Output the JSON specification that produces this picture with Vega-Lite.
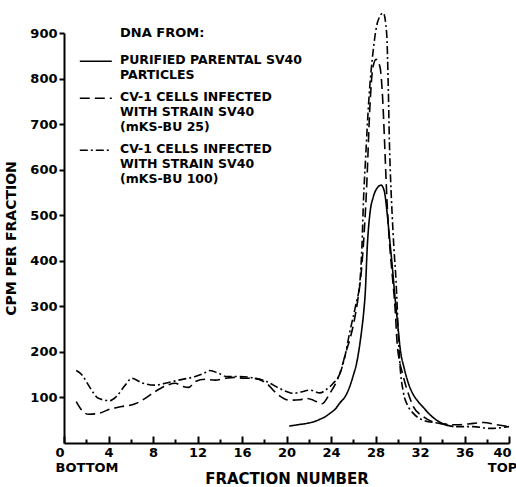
{
  "$schema": "https://vega.github.io/schema/vega-lite/v6.json",
  "width": 445,
  "height": 410,
  "autosize": {"type": "none"},
  "padding": {"left": 64, "top": 33, "right": 7, "bottom": 44},
  "background": "white",
  "title": {"text": "DNA FROM:", "anchor": "start", "frame": "group", "dx": 56, "offset": -40, "fontSize": 13, "font": "DejaVu Sans", "fontWeight": "bold", "color": "black", "baseline": "alphabetic"},
  "data": {"values": [
    {"dna": "parental", "fraction": 20.25, "cpm": 37},
    {"dna": "parental", "fraction": 21.0, "cpm": 40},
    {"dna": "parental", "fraction": 21.8, "cpm": 43},
    {"dna": "parental", "fraction": 22.5, "cpm": 47},
    {"dna": "parental", "fraction": 23.0, "cpm": 52},
    {"dna": "parental", "fraction": 23.5, "cpm": 58},
    {"dna": "parental", "fraction": 23.9, "cpm": 65},
    {"dna": "parental", "fraction": 24.4, "cpm": 75},
    {"dna": "parental", "fraction": 24.8, "cpm": 88},
    {"dna": "parental", "fraction": 25.3, "cpm": 103},
    {"dna": "parental", "fraction": 25.7, "cpm": 125},
    {"dna": "parental", "fraction": 26.0, "cpm": 148},
    {"dna": "parental", "fraction": 26.3, "cpm": 175},
    {"dna": "parental", "fraction": 26.55, "cpm": 210},
    {"dna": "parental", "fraction": 26.76, "cpm": 248},
    {"dna": "parental", "fraction": 26.95, "cpm": 290},
    {"dna": "parental", "fraction": 27.08, "cpm": 330},
    {"dna": "parental", "fraction": 27.26, "cpm": 431},
    {"dna": "parental", "fraction": 27.5, "cpm": 504},
    {"dna": "parental", "fraction": 27.8, "cpm": 540},
    {"dna": "parental", "fraction": 28.1, "cpm": 558},
    {"dna": "parental", "fraction": 28.5, "cpm": 566},
    {"dna": "parental", "fraction": 28.8, "cpm": 552},
    {"dna": "parental", "fraction": 29.0, "cpm": 515},
    {"dna": "parental", "fraction": 29.3, "cpm": 440},
    {"dna": "parental", "fraction": 29.5, "cpm": 390},
    {"dna": "parental", "fraction": 29.75, "cpm": 321},
    {"dna": "parental", "fraction": 30.0, "cpm": 260},
    {"dna": "parental", "fraction": 30.2, "cpm": 211},
    {"dna": "parental", "fraction": 30.6, "cpm": 162},
    {"dna": "parental", "fraction": 31.0, "cpm": 128},
    {"dna": "parental", "fraction": 31.4, "cpm": 106},
    {"dna": "parental", "fraction": 31.8, "cpm": 92},
    {"dna": "parental", "fraction": 32.3, "cpm": 78},
    {"dna": "parental", "fraction": 32.9, "cpm": 62},
    {"dna": "parental", "fraction": 33.5, "cpm": 50},
    {"dna": "parental", "fraction": 34.1, "cpm": 42},
    {"dna": "parental", "fraction": 34.6, "cpm": 38},
    {"dna": "parental", "fraction": 35.0, "cpm": 36},

    {"dna": "bu25", "fraction": 1.1, "cpm": 91},
    {"dna": "bu25", "fraction": 1.6, "cpm": 72},
    {"dna": "bu25", "fraction": 2.2, "cpm": 63},
    {"dna": "bu25", "fraction": 3.1, "cpm": 65},
    {"dna": "bu25", "fraction": 4.1, "cpm": 74},
    {"dna": "bu25", "fraction": 5.2, "cpm": 80},
    {"dna": "bu25", "fraction": 6.4, "cpm": 86},
    {"dna": "bu25", "fraction": 7.3, "cpm": 98},
    {"dna": "bu25", "fraction": 8.2, "cpm": 113},
    {"dna": "bu25", "fraction": 9.1, "cpm": 125},
    {"dna": "bu25", "fraction": 10.0, "cpm": 131},
    {"dna": "bu25", "fraction": 10.7, "cpm": 124},
    {"dna": "bu25", "fraction": 11.2, "cpm": 122},
    {"dna": "bu25", "fraction": 11.8, "cpm": 135},
    {"dna": "bu25", "fraction": 12.7, "cpm": 140},
    {"dna": "bu25", "fraction": 13.6, "cpm": 138},
    {"dna": "bu25", "fraction": 14.5, "cpm": 142},
    {"dna": "bu25", "fraction": 15.4, "cpm": 144},
    {"dna": "bu25", "fraction": 16.2, "cpm": 142},
    {"dna": "bu25", "fraction": 17.0, "cpm": 142},
    {"dna": "bu25", "fraction": 18.2, "cpm": 131},
    {"dna": "bu25", "fraction": 19.1, "cpm": 109},
    {"dna": "bu25", "fraction": 20.3, "cpm": 94},
    {"dna": "bu25", "fraction": 21.2, "cpm": 95},
    {"dna": "bu25", "fraction": 21.8, "cpm": 98},
    {"dna": "bu25", "fraction": 22.4, "cpm": 94},
    {"dna": "bu25", "fraction": 23.2, "cpm": 86},
    {"dna": "bu25", "fraction": 23.9, "cpm": 109},
    {"dna": "bu25", "fraction": 24.4, "cpm": 130},
    {"dna": "bu25", "fraction": 24.8, "cpm": 153},
    {"dna": "bu25", "fraction": 25.4, "cpm": 204},
    {"dna": "bu25", "fraction": 25.7, "cpm": 228},
    {"dna": "bu25", "fraction": 26.1, "cpm": 270},
    {"dna": "bu25", "fraction": 26.45, "cpm": 321},
    {"dna": "bu25", "fraction": 26.7, "cpm": 370},
    {"dna": "bu25", "fraction": 26.9, "cpm": 431},
    {"dna": "bu25", "fraction": 27.2, "cpm": 560},
    {"dna": "bu25", "fraction": 27.5, "cpm": 740},
    {"dna": "bu25", "fraction": 27.75, "cpm": 822},
    {"dna": "bu25", "fraction": 28.05, "cpm": 842},
    {"dna": "bu25", "fraction": 28.4, "cpm": 826},
    {"dna": "bu25", "fraction": 28.65, "cpm": 753},
    {"dna": "bu25", "fraction": 28.85, "cpm": 640},
    {"dna": "bu25", "fraction": 29.03, "cpm": 533},
    {"dna": "bu25", "fraction": 29.24, "cpm": 446},
    {"dna": "bu25", "fraction": 29.5, "cpm": 370},
    {"dna": "bu25", "fraction": 29.75, "cpm": 300},
    {"dna": "bu25", "fraction": 29.96, "cpm": 215},
    {"dna": "bu25", "fraction": 30.5, "cpm": 146},
    {"dna": "bu25", "fraction": 31.0, "cpm": 105},
    {"dna": "bu25", "fraction": 31.4, "cpm": 80},
    {"dna": "bu25", "fraction": 32.3, "cpm": 58},
    {"dna": "bu25", "fraction": 33.0, "cpm": 48},
    {"dna": "bu25", "fraction": 33.8, "cpm": 43},
    {"dna": "bu25", "fraction": 35.3, "cpm": 40},
    {"dna": "bu25", "fraction": 36.8, "cpm": 43},
    {"dna": "bu25", "fraction": 37.7, "cpm": 45},
    {"dna": "bu25", "fraction": 38.9, "cpm": 40},
    {"dna": "bu25", "fraction": 40.0, "cpm": 36},

    {"dna": "bu100", "fraction": 1.1, "cpm": 159},
    {"dna": "bu100", "fraction": 1.6, "cpm": 150},
    {"dna": "bu100", "fraction": 2.2, "cpm": 127},
    {"dna": "bu100", "fraction": 2.7, "cpm": 108},
    {"dna": "bu100", "fraction": 3.1, "cpm": 98},
    {"dna": "bu100", "fraction": 4.1, "cpm": 93},
    {"dna": "bu100", "fraction": 4.7, "cpm": 102},
    {"dna": "bu100", "fraction": 5.5, "cpm": 127},
    {"dna": "bu100", "fraction": 6.1, "cpm": 142},
    {"dna": "bu100", "fraction": 7.0, "cpm": 132},
    {"dna": "bu100", "fraction": 8.2, "cpm": 127},
    {"dna": "bu100", "fraction": 9.1, "cpm": 131},
    {"dna": "bu100", "fraction": 10.3, "cpm": 138},
    {"dna": "bu100", "fraction": 11.8, "cpm": 146},
    {"dna": "bu100", "fraction": 12.5, "cpm": 152},
    {"dna": "bu100", "fraction": 13.1, "cpm": 159},
    {"dna": "bu100", "fraction": 13.9, "cpm": 153},
    {"dna": "bu100", "fraction": 14.6, "cpm": 146},
    {"dna": "bu100", "fraction": 15.7, "cpm": 146},
    {"dna": "bu100", "fraction": 17.2, "cpm": 142},
    {"dna": "bu100", "fraction": 18.2, "cpm": 135},
    {"dna": "bu100", "fraction": 19.2, "cpm": 122},
    {"dna": "bu100", "fraction": 20.0, "cpm": 113},
    {"dna": "bu100", "fraction": 20.6, "cpm": 109},
    {"dna": "bu100", "fraction": 21.3, "cpm": 112},
    {"dna": "bu100", "fraction": 22.1, "cpm": 116},
    {"dna": "bu100", "fraction": 23.0, "cpm": 110},
    {"dna": "bu100", "fraction": 23.6, "cpm": 118},
    {"dna": "bu100", "fraction": 24.2, "cpm": 131},
    {"dna": "bu100", "fraction": 24.8, "cpm": 152},
    {"dna": "bu100", "fraction": 25.2, "cpm": 185},
    {"dna": "bu100", "fraction": 25.7, "cpm": 245},
    {"dna": "bu100", "fraction": 26.2, "cpm": 300},
    {"dna": "bu100", "fraction": 26.6, "cpm": 355},
    {"dna": "bu100", "fraction": 26.78, "cpm": 430},
    {"dna": "bu100", "fraction": 26.92, "cpm": 533},
    {"dna": "bu100", "fraction": 27.1, "cpm": 620},
    {"dna": "bu100", "fraction": 27.4, "cpm": 753},
    {"dna": "bu100", "fraction": 27.8, "cpm": 863},
    {"dna": "bu100", "fraction": 28.2, "cpm": 925},
    {"dna": "bu100", "fraction": 28.7, "cpm": 944},
    {"dna": "bu100", "fraction": 29.0, "cpm": 900},
    {"dna": "bu100", "fraction": 29.15, "cpm": 780},
    {"dna": "bu100", "fraction": 29.25, "cpm": 660},
    {"dna": "bu100", "fraction": 29.36, "cpm": 577},
    {"dna": "bu100", "fraction": 29.5, "cpm": 500},
    {"dna": "bu100", "fraction": 29.65, "cpm": 430},
    {"dna": "bu100", "fraction": 29.84, "cpm": 358},
    {"dna": "bu100", "fraction": 29.95, "cpm": 300},
    {"dna": "bu100", "fraction": 30.05, "cpm": 240},
    {"dna": "bu100", "fraction": 30.2, "cpm": 172},
    {"dna": "bu100", "fraction": 30.5, "cpm": 112},
    {"dna": "bu100", "fraction": 30.9, "cpm": 82},
    {"dna": "bu100", "fraction": 31.4, "cpm": 65},
    {"dna": "bu100", "fraction": 32.3, "cpm": 50},
    {"dna": "bu100", "fraction": 33.8, "cpm": 43},
    {"dna": "bu100", "fraction": 35.3, "cpm": 36},
    {"dna": "bu100", "fraction": 36.8, "cpm": 36},
    {"dna": "bu100", "fraction": 38.3, "cpm": 32},
    {"dna": "bu100", "fraction": 40.0, "cpm": 36}
  ]},
  "mark": {"type": "line", "interpolate": "monotone", "color": "black", "strokeWidth": 1.6},
  "encoding": {
    "x": {
      "field": "fraction", "type": "quantitative",
      "scale": {"domain": [0, 40], "nice": false},
      "axis": {
        "title": "FRACTION NUMBER",
        "values": [0, 2, 4, 6, 8, 10, 12, 14, 16, 18, 20, 22, 24, 26, 28, 30, 32, 34, 36, 38, 40],
        "labelExpr": "datum.value == 0 ? ['0', 'BOTTOM'] : datum.value == 40 ? ['40', 'TOP'] : (datum.value % 4 == 0 ? datum.label : '')",
        "tickSize": {"expr": "datum.value % 4 == 0 ? -7 : -4"},
        "labelPadding": 10,
        "labelLineHeight": 15,
        "labelAlign": {"expr": "datum.value == 0 ? 'left' : 'center'"},
        "labelOffset": {"expr": "datum.value == 0 ? -9 : datum.value == 40 ? -7 : 0"},
        "labelFlush": false,
        "labelOverlap": false,
        "titlePadding": -3,
        "titleFontSize": 15
      }
    },
    "y": {
      "field": "cpm", "type": "quantitative",
      "scale": {"domain": [0, 900], "nice": false},
      "axis": {
        "title": "CPM PER FRACTION",
        "values": [100, 200, 300, 400, 500, 600, 700, 800, 900],
        "tickSize": 5,
        "labelPadding": 2,
        "titlePadding": 11,
        "titleFontSize": 14
      }
    },
    "strokeDash": {
      "field": "dna", "type": "nominal",
      "scale": {"domain": ["parental", "bu25", "bu100"], "range": [[1, 0], [10, 5], [8, 3, 2, 3]]},
      "legend": {
        "orient": "none", "legendX": 14, "legendY": 12,
        "title": null,
        "symbolType": "M-0.9,0.9H3.1", "symbolSize": 256, "symbolStrokeWidth": 1.6, "symbolStrokeColor": "black", "symbolFillColor": "transparent",
        "labelExpr": "datum.value == 'parental' ? ['PURIFIED PARENTAL SV40', 'PARTICLES'] : datum.value == 'bu25' ? ['CV-1 CELLS INFECTED', 'WITH STRAIN SV40', '(mKS-BU 25)'] : ['CV-1 CELLS INFECTED', 'WITH STRAIN SV40', '(mKS-BU 100)']",
        "labelFont": "DejaVu Sans", "labelFontSize": 12.5, "labelFontWeight": "bold", "labelColor": "black",
        "labelBaseline": "top", "labelOffset": 24, "rowPadding": 0, "labelLimit": 400
      }
    }
  },
  "config": {
    "view": {"stroke": null},
    "style": {"guide-label": {"lineHeight": 15}},
    "axis": {
      "domainColor": "black", "domainWidth": 2, "tickColor": "black", "tickWidth": 2,
      "labelColor": "black", "labelFont": "DejaVu Sans", "labelFontWeight": "bold", "labelFontSize": 13,
      "titleColor": "black", "titleFont": "DejaVu Sans", "titleFontWeight": "bold", "titleFontSize": 13,
      "grid": false
    }
  }
}
